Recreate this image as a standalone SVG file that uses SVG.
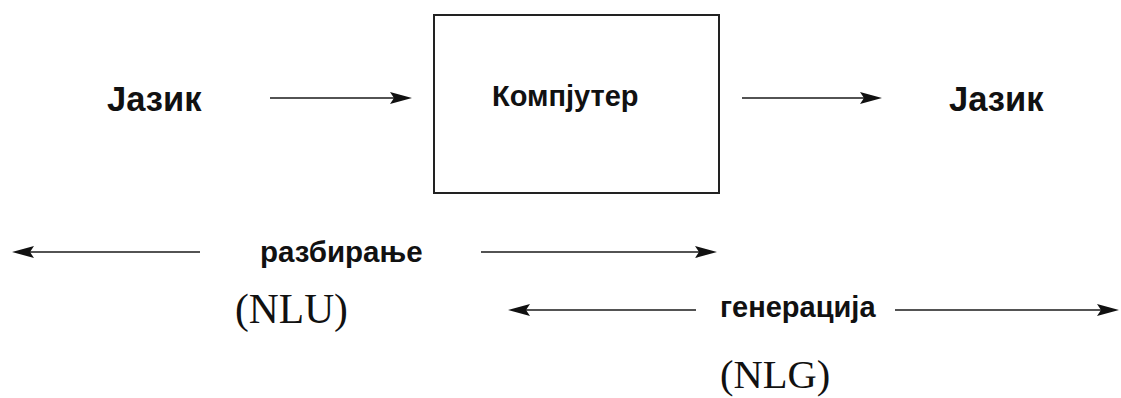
<svg xmlns="http://www.w3.org/2000/svg" width="1121" height="398" viewBox="0 0 1121 398">
  <style>
    .lbl { font-family: "Liberation Sans", Arial, sans-serif; font-weight: bold; fill: #111; }
    .abbr { font-family: "Liberation Serif", "Times New Roman", serif; fill: #111; }
    .conn { stroke: #1a1a1a; stroke-width: 1.7; fill: none; marker-end: url(#head); }
    .box { fill: #fff; stroke: #222; stroke-width: 2; }
  </style>
  <defs>
    <marker id="head" markerUnits="userSpaceOnUse" markerWidth="26" markerHeight="14" refX="12" refY="6" orient="auto">
      <path d="M0,0 L22,6 L0,12 L4,6 z" fill="#111"/>
    </marker>
  </defs>
  <rect width="1121" height="398" fill="#fff"/>

  <g id="input-language">
    <text class="lbl" x="107" y="111" font-size="34.5">Јазик</text>
  </g>

  <g id="computer">
    <rect class="box" x="434" y="15" width="285" height="178"/>
    <text class="lbl" x="492" y="106" font-size="29">Компјутер</text>
  </g>

  <g id="output-language">
    <text class="lbl" x="949" y="111" font-size="34.5">Јазик</text>
  </g>

  <g id="parsing">
    <text class="lbl" x="260" y="262" font-size="29.5">разбирање</text>
    <text class="abbr" x="235" y="323" font-size="41.5">(NLU)</text>
  </g>

  <g id="generation">
    <text class="lbl" x="720" y="317" font-size="29">генерација</text>
    <text class="abbr" x="720" y="388" font-size="40.5">(NLG)</text>
  </g>

  <g id="connectors">
    <path class="conn" d="M270,98 H402"/>
    <path class="conn" d="M742,98 H872"/>
    <path class="conn" d="M200,252 H22"/>
    <path class="conn" d="M481,252 H707"/>
    <path class="conn" d="M696,310 H518"/>
    <path class="conn" d="M895,310 H1109"/>
  </g>
</svg>
